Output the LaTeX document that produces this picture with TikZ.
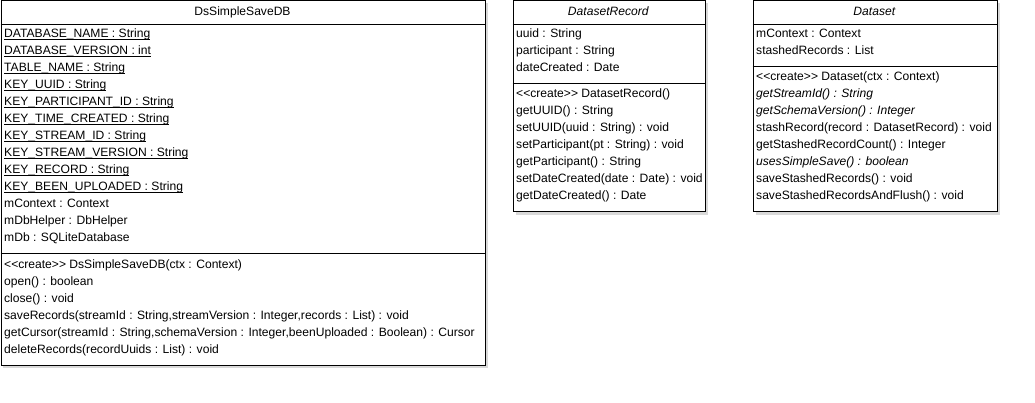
\documentclass[tikz,border=0pt]{standalone}
\usepackage{fontspec}
\setmainfont{Liberation Sans}
\newcommand\myul[1]{\setbox0\hbox{#1}\rlap{\rule[-2.4pt]{\wd0}{1pt}}\box0}
\begin{document}
\begin{tikzpicture}[x=1pt,y=-1pt,
  box/.style={draw=black, line width=1pt, fill=white, inner sep=0pt, anchor=north west},
  shadow/.style={fill=black!15, draw=none},
  sep/.style={line width=1pt},
  txt/.style={anchor=base west, inner sep=0pt, font=\fontsize{12.1}{12}\selectfont},
  ttl/.style={anchor=base, inner sep=0pt, font=\fontsize{12.1}{12}\selectfont}]
\useasboundingbox (0,0) rectangle (1035,403);
% shadows
\fill[shadow] (3,3) rectangle (488,368);
\fill[shadow] (515.5,3) rectangle (708,215);
\fill[shadow] (755.5,3) rectangle (1000,215);
% boxes
\node[box, minimum width=484pt, minimum height=364pt] (c1) at (0.5,0.5) {};
\node[box, minimum width=192pt, minimum height=211pt] (c2) at (512.5,0.5) {};
\node[box, minimum width=244pt, minimum height=211pt] (c3) at (752.5,0.5) {};
% separators
\coordinate (c1h1) at (0.5,24.5);  \coordinate (c1h2) at (484.5,24.5);
\coordinate (c1s1) at (0.5,253.5); \coordinate (c1s2) at (484.5,253.5);
\draw[sep] (c1h1) -- (c1h2); \draw[sep] (c1s1) -- (c1s2);
\coordinate (c2h1) at (512.5,24.5);  \coordinate (c2h2) at (704.5,24.5);
\coordinate (c2s1) at (512.5,83.5);  \coordinate (c2s2) at (704.5,83.5);
\draw[sep] (c2h1) -- (c2h2); \draw[sep] (c2s1) -- (c2s2);
\coordinate (c3h1) at (752.5,24.5);  \coordinate (c3h2) at (996.5,24.5);
\coordinate (c3s1) at (752.5,66.5);  \coordinate (c3s2) at (996.5,66.5);
\draw[sep] (c3h1) -- (c3h2); \draw[sep] (c3s1) -- (c3s2);
% titles
\node[ttl] (t1) at (242.5,16) {DsSimpleSaveDB};
\node[ttl] (t2) at (608.5,16) {\textit{DatasetRecord}};
\node[ttl] (t3) at (874.5,16) {\textit{Dataset}};
% class 1 attributes
\foreach \t [count=\i from 0] in {
  {\myul{DATABASE\_NAME : String}},
  {\myul{DATABASE\_VERSION : int}},
  {\myul{TABLE\_NAME : String}},
  {\myul{KEY\_UUID : String}},
  {\myul{KEY\_PARTICIPANT\_ID : String}},
  {\myul{KEY\_TIME\_CREATED : String}},
  {\myul{KEY\_STREAM\_ID : String}},
  {\myul{KEY\_STREAM\_VERSION : String}},
  {\myul{KEY\_RECORD : String}},
  {\myul{KEY\_BEEN\_UPLOADED : String}},
  {mContext : Context},
  {mDbHelper : DbHelper},
  {mDb : SQLiteDatabase}}
  \node[txt] (a1-\i) at (4,38+17*\i) {\t};
% class 1 methods
\foreach \t [count=\i from 0] in {
  {{<}{<}create{>}{>} DsSimpleSaveDB(ctx : Context)},
  {open() : boolean},
  {close() : void},
  {saveRecords(streamId : String,streamVersion : Integer,records : List) : void},
  {getCursor(streamId : String,schemaVersion : Integer,beenUploaded : Boolean) : Cursor},
  {deleteRecords(recordUuids : List) : void}}
  \node[txt] (m1-\i) at (4,268+17*\i) {\t};
% class 2 attributes
\foreach \t [count=\i from 0] in {
  {uuid : String},
  {participant : String},
  {dateCreated : Date}}
  \node[txt] (a2-\i) at (516,38+17*\i) {\t};
% class 2 methods
\foreach \t [count=\i from 0] in {
  {{<}{<}create{>}{>} DatasetRecord()},
  {getUUID() : String},
  {setUUID(uuid : String) : void},
  {setParticipant(pt : String) : void},
  {getParticipant() : String},
  {setDateCreated(date : Date) : void},
  {getDateCreated() : Date}}
  \node[txt] (m2-\i) at (516,98+17*\i) {\t};
% class 3 attributes
\foreach \t [count=\i from 0] in {
  {mContext : Context},
  {stashedRecords : List}}
  \node[txt] (a3-\i) at (756,38+17*\i) {\t};
% class 3 methods
\foreach \t [count=\i from 0] in {
  {{<}{<}create{>}{>} Dataset(ctx : Context)},
  {\textit{getStreamId() : String}},
  {\textit{getSchemaVersion() : Integer}},
  {stashRecord(record : DatasetRecord) : void},
  {getStashedRecordCount() : Integer},
  {\textit{usesSimpleSave() : boolean}},
  {saveStashedRecords() : void},
  {saveStashedRecordsAndFlush() : void}}
  \node[txt] (m3-\i) at (756,81+17*\i) {\t};
\end{tikzpicture}
\end{document}
